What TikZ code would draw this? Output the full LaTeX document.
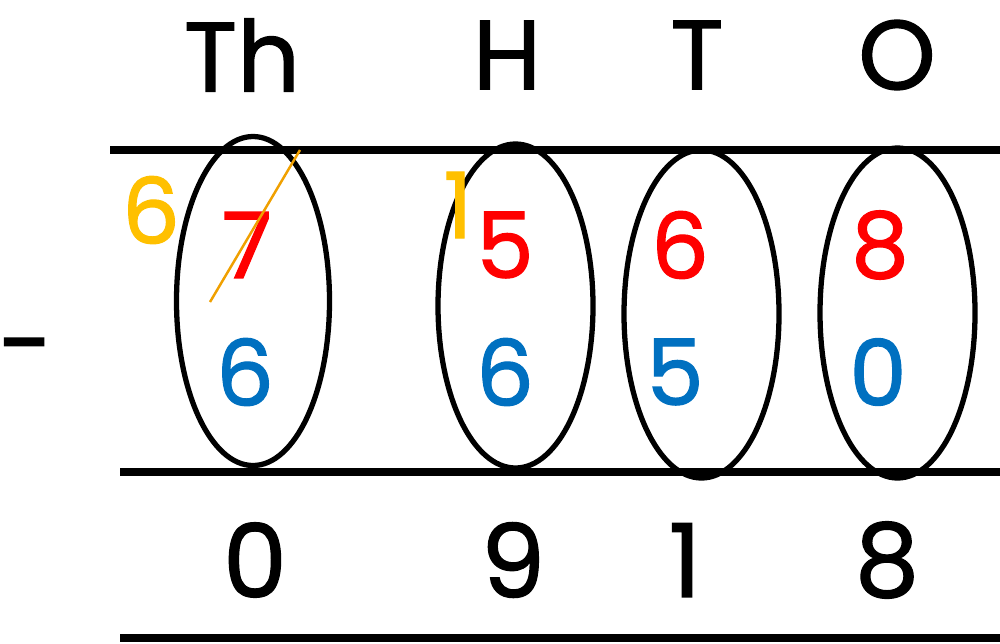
\documentclass[tikz,border=0pt]{standalone}
\usepackage{fontspec}
\setmainfont{Poppins}[FakeBold=1.3]
\usepackage{tikz}
\usetikzlibrary{shapes.geometric,positioning}
\definecolor{rougeCh}{RGB}{255,0,0}
\definecolor{bleuCh}{RGB}{0,112,192}
\definecolor{jauneCh}{RGB}{255,192,0}
\definecolor{orangeTr}{RGB}{240,160,0}

\begin{document}
\begin{tikzpicture}[
  ov/.style={ellipse,draw=black,line width=1.5pt,minimum width=1.55cm,minimum height=3.28cm,inner sep=0pt},
  hd/.style={inner sep=0pt,font=\fontsize{28}{30}\selectfont},
  dg/.style={inner sep=0pt,font=\fontsize{26}{28}\selectfont},
  rs/.style={inner sep=0pt,font=\fontsize{29}{31}\selectfont},
  ln/.style={line width=2.3pt,black}]
  \useasboundingbox (0,0) rectangle (10,6.43);

  % place value headings
  \node[hd] (hTh) at (2.42,5.88) {Th};
  \node[hd] (hH)  at (5.07,5.88) {H};
  \node[hd] (hT)  at (6.97,5.88) {T};
  \node[hd] (hO)  at (8.97,5.88) {O};

  % rules
  \draw[ln] (1.10,4.93) -- (10,4.93);
  \draw[ln] (1.20,1.71) -- (10,1.71);
  \draw[ln] (1.20,0.05) -- (10,0.05);

  % columns
  \node[ov,minimum width=1.53cm,minimum height=3.29cm] (eTh) at (2.53,3.42) {};
  \node[ov,minimum height=3.24cm] (eH) at (5.155,3.37) {};
  \node[ov] (eT) at (7.015,3.29) {};
  \node[ov,minimum height=3.30cm] (eO) at (8.975,3.30) {};

  % minuend
  \node[dg,text=rougeCh] (r1) at (2.47,3.98) {7};
  \node[dg,text=rougeCh] (r2) at (5.05,3.98) {5};
  \node[dg,text=rougeCh] (r3) at (6.80,3.98) {6};
  \node[dg,text=rougeCh] (r4) at (8.80,3.98) {8};

  % subtrahend
  \node[dg,text=bleuCh] (b1) at (2.45,2.71) {6};
  \node[dg,text=bleuCh] (b2) at (5.05,2.71) {6};
  \node[dg,text=bleuCh] (b3) at (6.75,2.71) {5};
  \node[dg,text=bleuCh] (b4) at (8.78,2.71) {0};
  \node[hd] (m) at (0.26,2.85) {-};

  % exchange
  \node[dg,text=jauneCh] (c6) at (1.51,4.33) {6};
  \node[dg,text=jauneCh] (c1) at (4.58,4.38) {1};
  \coordinate (x1) at (2.10,3.41);
  \coordinate (x2) at (3.00,4.93);
  \draw[orangeTr,line width=0.7pt] (x1) -- (x2);

  % difference
  \node[rs] (s1) at (2.55,0.83) {0};
  \node[rs] (s2) at (5.13,0.83) {9};
  \node[rs] (s3) at (6.85,0.83) {1};
  \node[rs] (s4) at (8.87,0.83) {8};
\end{tikzpicture}
\end{document}
